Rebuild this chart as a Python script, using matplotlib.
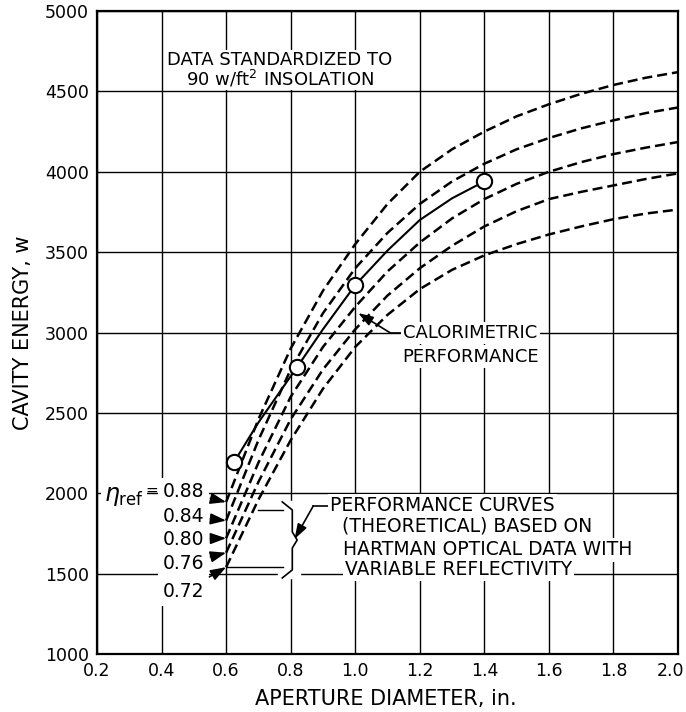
import numpy as np
import matplotlib
matplotlib.use("Agg")
import matplotlib.pyplot as plt
import matplotlib.transforms as mtransforms

# theoretical performance curves (dashed), one per reflectivity
x_theory = [0.6, 0.7, 0.8, 0.9, 1.0, 1.1, 1.2, 1.3, 1.4, 1.5, 1.6, 1.7, 1.8, 1.9, 2.0]
eta_labels = ["0.88", "0.84", "0.80", "0.76", "0.72"]
e_088 = [1945, 2460, 2900, 3260, 3550, 3800, 4000, 4140, 4250, 4345, 4420, 4485, 4540, 4585, 4620]
e_084 = [1830, 2330, 2770, 3120, 3400, 3620, 3800, 3940, 4050, 4140, 4210, 4270, 4320, 4365, 4400]
e_080 = [1720, 2190, 2600, 2910, 3160, 3380, 3560, 3710, 3830, 3925, 4000, 4060, 4110, 4150, 4185]
e_076 = [1630, 2070, 2460, 2770, 3020, 3230, 3400, 3540, 3660, 3755, 3830, 3875, 3915, 3955, 3990]
e_072 = [1540, 1960, 2330, 2650, 2910, 3110, 3270, 3390, 3480, 3550, 3610, 3660, 3705, 3740, 3765]
curves = [e_088, e_084, e_080, e_076, e_072]

# calorimetric performance (solid) and measured points
cal_x = [0.625, 0.7, 0.82, 0.9, 1.0, 1.1, 1.2, 1.3, 1.4]
cal_y = [2195, 2440, 2785, 3020, 3295, 3510, 3700, 3835, 3940]
meas_x = [0.625, 0.82, 1.0, 1.4]
meas_y = [2195, 2785, 3295, 3940]

x_ticks = [0.2, 0.4, 0.6, 0.8, 1.0, 1.2, 1.4, 1.6, 1.8, 2.0]
x_ticklabels = ["0.2", "0.4", "0.6", "0.8", "1.0", "1.2", "1.4", "1.6", "1.8", "2.0"]
y_ticks = [1000, 1500, 2000, 2500, 3000, 3500, 4000, 4500, 5000]

plt.rcParams['font.family'] = 'DejaVu Sans'
fig = plt.figure(figsize=(6.86, 7.12), dpi=100)
ax = fig.add_axes([0.1414, 0.0815, 0.847, 0.903])
ax.set_xlim(0.2, 2.0)
ax.set_ylim(1000, 5000)
ax.set_xticks(x_ticks)
ax.set_xticklabels(x_ticklabels)
ax.set_yticks(y_ticks)
ax.tick_params(length=0, labelsize=12.5, pad=6)
ax.grid(True, color='k', lw=1.0, zorder=0)
ax.set_axisbelow(True)
for s in ax.spines.values():
    s.set_linewidth(1.6)
# keep the last x label inside the figure
last = ax.get_xticklabels()[-1]
last.set_transform(last.get_transform() +
                   mtransforms.ScaledTranslation(-8 / 100, 0, fig.dpi_scale_trans))

ax.set_xlabel("APERTURE DIAMETER, in.", fontsize=15)
ax.xaxis.set_label_coords(0.497, -0.054)
ax.set_ylabel("CAVITY ENERGY, w", fontsize=15)
ax.yaxis.set_label_coords(-0.11, 0.5)

box = dict(facecolor='white', edgecolor='none', pad=1.5)
fs = 13.5

for yv in curves:
    ax.plot(x_theory, yv, color='k', lw=1.8, dashes=(4, 2), zorder=3)
ax.plot(cal_x, cal_y, color='k', lw=1.5, zorder=3)
ax.plot(meas_x, meas_y, 'o', ms=11, mfc='white', mec='k', mew=1.5, zorder=5)

# header note
hbox = dict(facecolor='white', edgecolor='none', pad=0.3)
ax.text(0.767, 4698, "DATA STANDARDIZED TO", ha='center', va='center',
        fontsize=13, bbox=hbox, zorder=6)
ax.text(0.767, 4575, r"90 w/ft$^2$ INSOLATION", ha='center', va='center',
        fontsize=13, bbox=hbox, zorder=7)

# reflectivity labels with arrows to curve starts
eta_text_y = [2008, 1858, 1715, 1560, 1386]
arrow = dict(arrowstyle='-|>,head_length=0.7,head_width=0.25', color='k',
             lw=1.2, shrinkA=1, shrinkB=0)
for lab, ty, yv in zip(eta_labels, eta_text_y, curves):
    ax.annotate(lab, xy=(x_theory[0], yv[0]), xytext=(0.532, ty),
                ha='right', va='center', fontsize=fs,
                bbox=dict(facecolor='white', edgecolor='none', pad=3.5),
                arrowprops=arrow, zorder=6)
ax.text(0.345, 1985, r"$\eta_{\rm ref}$", ha='right', va='center', fontsize=17,
        bbox=dict(facecolor='white', edgecolor='none', pad=2), zorder=6)
ax.text(0.350, 2020, "=", ha='left', va='center', fontsize=11, zorder=7)

# brace grouping the theoretical curves
ax.plot([0.699, 0.777], [1896, 1896], color='k', lw=1.0, zorder=4)
ax.plot([0.603, 0.777], [1541, 1541], color='k', lw=1.0, zorder=4)
ax.fill_between([0.76, 0.83], 1470, 1950, color='white', zorder=2)
ax.plot([0.774, 0.805, 0.805, 0.820, 0.805, 0.805, 0.774],
        [1946, 1896, 1759, 1709, 1659, 1523, 1473], color='k', lw=1.2, zorder=4)
ax.plot([0.916, 0.870], [1921, 1921], color='k', lw=1.2, zorder=4)
ax.annotate("", xy=(0.812, 1715), xytext=(0.870, 1921),
            arrowprops=dict(arrowstyle='-|>,head_length=0.9,head_width=0.3',
                            color='k', lw=1.2, shrinkA=0, shrinkB=0), zorder=4)
perf_lines = ["PERFORMANCE CURVES", "(THEORETICAL) BASED ON",
              "HARTMAN OPTICAL DATA WITH", "VARIABLE REFLECTIVITY"]
perf_x = [0.922, 0.958, 0.962, 0.968]
perf_y = [1921, 1796, 1647, 1523]
for t, px, py in zip(perf_lines, perf_x, perf_y):
    ax.text(px, py, t, ha='left', va='center', fontsize=fs, bbox=box, zorder=6)

# calorimetric label
ax.text(1.357, 2997, "CALORIMETRIC", ha='center', va='center', fontsize=13,
        bbox=box, zorder=6)
ax.text(1.357, 2850, "PERFORMANCE", ha='center', va='center', fontsize=13,
        bbox=box, zorder=6)
ax.plot([1.164, 1.109], [2997, 2997], color='k', lw=1.2, zorder=4)
ax.annotate("", xy=(1.009, 3121), xytext=(1.109, 2997),
            arrowprops=dict(arrowstyle='-|>,head_length=0.9,head_width=0.3',
                            color='k', lw=1.2, shrinkA=0, shrinkB=0), zorder=4)

fig.savefig("out.png", dpi=100)
